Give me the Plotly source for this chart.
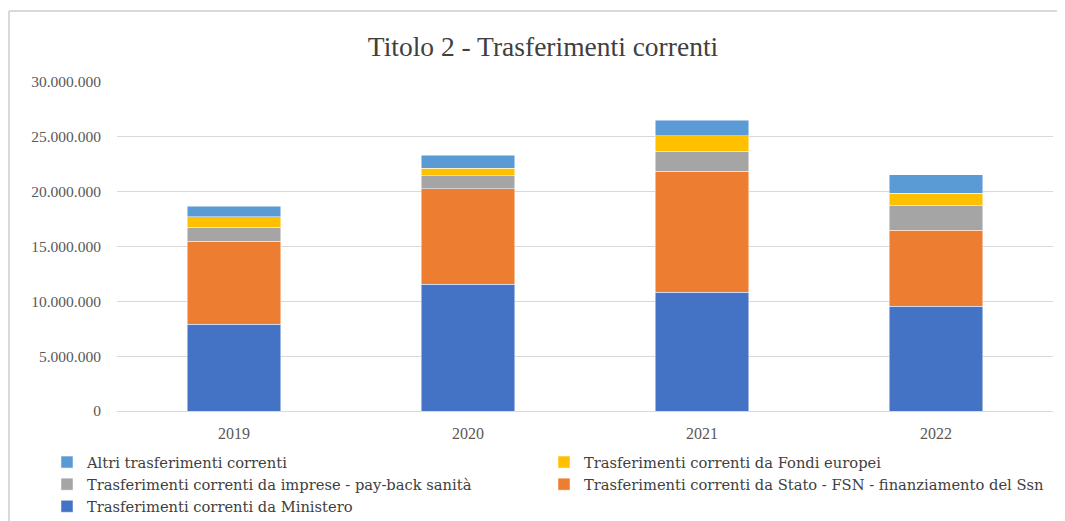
import plotly.graph_objects as go

years = ["2019", "2020", "2021", "2022"]
ministero = [7930000, 11580000, 10850000, 9570000]
fsn = [7570000, 8690000, 11000000, 6900000]
imprese = [1250000, 1180000, 1850000, 2310000]
fondi_ue = [960000, 700000, 1400000, 1090000]
altri = [980000, 1190000, 1430000, 1670000]

# (name, values, colour, legend column)
series = [
    ("Trasferimenti correnti da Ministero", ministero, "#4472C4", "legend"),
    ("Trasferimenti correnti da Stato - FSN - finanziamento del Ssn", fsn, "#ED7D31", "legend2"),
    ("Trasferimenti correnti da imprese - pay-back sanità", imprese, "#A5A5A5", "legend"),
    ("Trasferimenti correnti da Fondi europei", fondi_ue, "#FFC000", "legend2"),
    ("Altri trasferimenti correnti", altri, "#5B9BD5", "legend"),
]

font_family = "Liberation Serif"
legend_family = "DejaVu Serif"
# page body has an 8px margin, so the figure is sized/positioned to compensate
W, H = 1057, 513
L, R, T = 109, 12, 74
PW, PH = W - L - R, 329
B = H - T - PH

fig = go.Figure()
for name, vals, col, lg in series:
    fig.add_trace(go.Bar(
        x=years, y=vals, name=name, legend=lg,
        marker=dict(color=col, line=dict(color="rgba(255,255,255,0.6)", width=0.8)),
    ))

legend_common = dict(orientation="v", traceorder="reversed", xanchor="left", yanchor="top",
                     xref="container", yref="container", bgcolor="rgba(0,0,0,0)",
                     font=dict(family=legend_family, size=14.7, color="#404040"),
                     itemwidth=30, tracegroupgap=0)

# chart-area frame: only its top and left edges fall inside the picture
fx0 = (1 - L) / PW
fx1 = (W + 40 - L) / PW
fy_top = (T + PH - 3) / PH
fy_bot = (T + PH - (H + 40)) / PH
frame = dict(color="#d9d9d9", width=2)

fig.update_layout(
    width=W, height=H,
    barmode="stack", bargap=0.6,
    separators=",.",
    paper_bgcolor="white", plot_bgcolor="white",
    margin=dict(l=L, r=R, t=T, b=B, autoexpand=False),
    font=dict(family=font_family, color="#595959", size=15),
    title=dict(text="Titolo 2 - Trasferimenti correnti", x=535 / W, xanchor="center",
               y=1 - 38 / H, yanchor="middle", xref="container", yref="container",
               font=dict(family=font_family, size=27.5, color="#404040")),
    showlegend=True,
    legend=dict(legend_common, x=39 / W, y=1 - 438 / H),
    legend2=dict(legend_common, x=536 / W, y=1 - 438 / H),
    shapes=[
        dict(type="line", xref="paper", yref="paper", x0=fx0, x1=fx1, y0=fy_top, y1=fy_top,
             line=frame, layer="below"),
        dict(type="line", xref="paper", yref="paper", x0=fx0, x1=fx0, y0=fy_bot, y1=fy_top,
             line=frame, layer="below"),
    ],
)
fig.update_yaxes(range=[0, 30000000], dtick=5000000, tickformat=",d",
                 showgrid=True, gridcolor="#d9d9d9", gridwidth=1,
                 zeroline=False, showline=False, ticks="outside", ticklen=12,
                 tickcolor="rgba(0,0,0,0)", tickfont=dict(size=15.5, color="#595959"))
fig.update_xaxes(showline=True, linecolor="#d9d9d9", linewidth=1, showgrid=False,
                 ticks="outside", ticklen=8, tickcolor="rgba(0,0,0,0)",
                 tickfont=dict(size=16, color="#595959"))

fig.write_html("out.html")
